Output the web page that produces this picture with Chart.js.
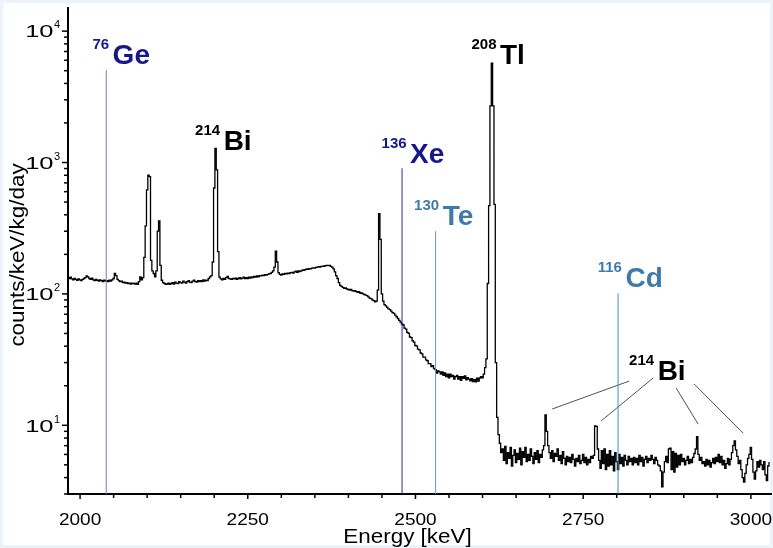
<!DOCTYPE html>
<html>
<head>
<meta charset="utf-8">
<script src="https://cdn.jsdelivr.net/npm/chart.js@4.4.1/dist/chart.umd.min.js"></script>
<style>
  html, body { margin: 0; padding: 0; background: #fff; }
  #wrap { width: 773px; height: 548px; }
</style>
</head>
<body>
<div id="wrap"><canvas id="spectrum" width="773" height="548"></canvas></div>
<script>
// histogram bins: 2 keV wide, first bin centred at 1980 keV
const binStart = 1980;
const binWidth = 2;

// counts/keV/kg/day, one row = 50 keV
const counts = [
  134,133,131,134,130,128,131,129,127,130,128,126,129,131,133,137,135,131,129,132,128,126,129,127,125, // 1980
  128,126,124,127,125,126,124,127,125,128,131,143,138,129,126,124,125,122,123,121,122,120,121,119,121, // 2030
  120,119,121,118,124,135,128,133,190,330,620,800,780,180,150,143,135,150,300,359,165,127,122,120,118, // 2080
  119,121,118,120,122,119,123,121,120,124,122,121,125,123,121,124,126,123,122,125,127,124,123,126,124, // 2130
  126,124,128,125,127,126,131,135,138,175,640,1283,880,210,134,130,128,131,129,133,136,131,130,129,131, // 2180
  130,132,129,131,133,130,132,134,131,133,131,134,132,135,133,136,134,137,135,138,137,139,138,140,139, // 2230
  141,142,143,146,150,160,212,175,145,141,139,142,141,143,142,144,143,145,146,144,147,149,146,150,148, // 2280
  150,152,151,153,155,154,156,155,157,158,157,159,160,161,160,162,163,162,164,165,164,165,162,160,155, // 2330
  147,138,131,122,116,114,112,110,111,109,108,107,108,106,105,106,104,103,104,101,102,100,99,98,97,    // 2380
  95,93,92,90,89,87,88,107,409,260,100,88,83,81,79,77,76,74,72,71,69,67,65,63,61,                      // 2430
  59,58,55,54,51,50,47,46.5,44,43,40.5,40,38,37.5,35.5,35,33,33,31.5,31,29.5,29.5,28,28.5,27,          // 2480
  26.5,25,26,25.5,24.5,25.5,24,25,23.5,24.5,23,24.5,23.5,24,22.5,23.5,24,22.5,23.5,22,23.5,22.8,23.8,22.2,23, // 2530
  22.5,21.8,22.6,21.5,22.3,21.4,22.8,21.7,22.9,23.5,23,24.5,27.5,32,120,470,2700,5700,2700,480,30,11.5,8.5,7.3,6.2, // 2580
  6.6,5.4,6.9,5.1,6.2,5.6,6.8,4.9,5.9,6.5,5.2,6.1,5.5,6.7,5.0,6.3,5.7,6.8,5.3,6.0,5.4,6.6,5.8,5.1,6.2, // 2630
  5.5,6.4,5.2,6.0,5.7,6.5,7.0,12.0,9.0,7.0,6.2,5.6,6.4,5.3,6.1,5.8,6.6,5.4,5.9,5.1,6.3,5.6,5.0,5.8,5.3, // 2680
  5.7,5.2,6.0,5.5,4.9,5.6,5.3,5.9,5.1,5.4,6.0,5.2,5.7,5.0,5.5,5.2,5.8,5.6,5.9,9.9,9.8,6.6,5.4,4.7,6.4, // 2730
  5.1,6.6,4.6,6.0,4.9,6.4,5.0,5.8,4.5,6.2,5.3,4.6,6.0,5.1,5.7,4.9,5.9,5.4,5.0,5.8,5.3,5.6,5.0,5.7,5.2, // 2780
  5.6,5.0,5.9,5.3,5.7,4.9,5.5,5.8,5.2,5.6,5.4,5.9,5.5,5.1,5.7,5.4,5.0,4.9,4.5,3.4,4.4,5.3,5.8,5.2,6.6, // 2830
  6.7,4.6,6.3,4.4,6.1,4.8,5.9,5.0,6.0,5.3,5.6,5.0,5.4,5.8,5.1,5.5,5.2,5.7,6.1,6.6,8.2,6.0,5.4,5.7,5.1, // 2880
  5.3,4.9,5.5,5.0,5.4,4.8,5.2,5.6,5.1,5.7,5.3,6.0,5.2,5.8,5.0,5.4,4.7,5.1,5.6,5.0,5.5,6.2,7.0,7.6,6.5, // 2930
  5.8,5.1,5.4,4.6,4.0,3.7,4.3,5.0,5.6,6.0,6.8,5.5,4.4,3.9,4.5,5.3,4.8,5.4,5.0,4.6,5.3,4.2,3.8,4.9,5.2  // 2980
];

// double beta Q-value markers
const markerEnergies = [2039, 2480, 2530, 2802];
const markerTops = [5025, 904, 300, 101];
const markerColors = ['#7878c8', '#2b2b95', '#6a97bd', '#4b8dbd'];

// isotope labels (anchor = left/baseline of element symbol, in data units)
const labelMass = ['76', '214', '136', '130', '208', '116', '214'];
const labelElement = ['Ge', 'Bi', 'Xe', 'Te', 'Tl', 'Cd', 'Bi'];
const labelEnergies = [2048.5, 2214, 2492, 2540.5, 2626, 2813, 2861];
const labelValues = [5650, 1239, 991, 333, 5580, 112, 22.1];
const labelColors = ['#17178a', '#000', '#17178a', '#3f7baa', '#000', '#3f7baa', '#000'];

// pointer lines from the right 214Bi label to its peaks
const pointerFromE = [2818.6, 2854.3, 2888.6, 2915.5];
const pointerFromV = [21.7, 22.9, 19.2, 20.6];
const pointerToE = [2703.7, 2776.8, 2921.4, 2988.5];
const pointerToV = [13.3, 10.8, 10.2, 8.7];

// axes
const xTickLabels = [2000, 2250, 2500, 2750, 3000];
const xMinorStep = 50;
const yTickPowers = [1, 2, 3, 4];

const FONT = '"Liberation Sans", Arial, sans-serif';
const energies = counts.map((_, i) => binStart + i * binWidth);

const datasets = [];
markerEnergies.forEach((e, i) => {
  datasets.push({
    data: [{ x: e, y: 3 }, { x: e, y: markerTops[i] }],
    borderColor: markerColors[i],
    borderWidth: 1,
    pointRadius: 0
  });
});
pointerFromE.forEach((e, i) => {
  datasets.push({
    data: [{ x: e, y: pointerFromV[i] }, { x: pointerToE[i], y: pointerToV[i] }],
    borderColor: '#404040',
    borderWidth: 0.9,
    pointRadius: 0
  });
});
datasets.push({
  data: energies.map((e, i) => ({ x: e, y: counts[i] })),
  borderColor: '#000',
  borderWidth: 1.3,
  pointRadius: 0,
  stepped: 'middle'
});

function stretchedText(ctx, text, x, y, sx, align) {
  ctx.save();
  ctx.translate(x, y);
  ctx.scale(sx, 1);
  ctx.textAlign = align;
  ctx.fillText(text, 0, 0);
  ctx.restore();
}

const decor = {
  id: 'decor',
  beforeDraw(chart) {
    const { ctx, width, height } = chart;
    ctx.save();
    ctx.fillStyle = '#edf3f8';
    ctx.fillRect(0, 0, width, height);
    ctx.fillStyle = '#fff';
    ctx.fillRect(3, 3, width - 6, height - 6);
    ctx.restore();
  },
  afterDraw(chart) {
    const { ctx, chartArea: area, scales: { x, y } } = chart;
    ctx.save();
    ctx.strokeStyle = '#000';
    ctx.fillStyle = '#000';
    ctx.lineWidth = 1.5;

    // x ticks
    for (let e = xTickLabels[0]; e <= x.max; e += xMinorStep) {
      const px = x.getPixelForValue(e);
      const len = xTickLabels.includes(e) ? 5 : 4;
      ctx.beginPath();
      ctx.moveTo(px, area.bottom);
      ctx.lineTo(px, area.bottom + len);
      ctx.stroke();
    }
    ctx.font = '17px ' + FONT;
    ctx.textBaseline = 'alphabetic';
    xTickLabels.forEach(e => {
      stretchedText(ctx, String(e), x.getPixelForValue(e), area.bottom + 31, 1.12, 'center');
    });

    // y ticks (log, 1..9 per decade)
    for (let d = 0; d <= 4; d++) {
      for (let m = 1; m <= 9; m++) {
        const v = m * Math.pow(10, d);
        if (v < y.min || v > y.max) continue;
        const py = y.getPixelForValue(v);
        ctx.beginPath();
        ctx.moveTo(area.left, py);
        ctx.lineTo(area.left - (m === 1 ? 6 : 4), py);
        ctx.stroke();
      }
    }
    yTickPowers.forEach(p => {
      const py = y.getPixelForValue(Math.pow(10, p));
      ctx.font = '17px ' + FONT;
      stretchedText(ctx, '10', area.left - 14.5, py + 6.3, 1.5, 'right');
      ctx.font = '11px ' + FONT;
      ctx.textAlign = 'left';
      ctx.fillText(String(p), area.left - 14, py - 2.7);
    });

    // axis titles
    ctx.font = '19.5px ' + FONT;
    stretchedText(ctx, 'Energy [keV]', 407.5, 543.3, 1.15, 'center');
    ctx.save();
    ctx.translate(18.5, (area.top + area.bottom) / 2 + 4);
    ctx.rotate(-Math.PI / 2);
    ctx.scale(1.15, 1);
    ctx.textAlign = 'center';
    ctx.textBaseline = 'middle';
    ctx.fillText('counts/keV/kg/day', 0, 0);
    ctx.restore();

    // isotope labels
    labelElement.forEach((el, i) => {
      const px = x.getPixelForValue(labelEnergies[i]);
      const py = y.getPixelForValue(labelValues[i]);
      ctx.fillStyle = labelColors[i];
      ctx.textBaseline = 'alphabetic';
      ctx.font = 'bold 28px ' + FONT;
      ctx.textAlign = 'left';
      ctx.fillText(el, px, py);
      ctx.font = 'bold 15px ' + FONT;
      ctx.textAlign = 'right';
      ctx.fillText(labelMass[i], px - 3.5, py - 15);
    });
    ctx.restore();
  }
};

new Chart(document.getElementById('spectrum'), {
  type: 'line',
  data: { datasets },
  options: {
    responsive: false,
    animation: false,
    layout: { padding: { top: 8, right: 2, left: 0, bottom: 0 } },
    plugins: { legend: { display: false }, tooltip: { enabled: false } },
    scales: {
      x: {
        type: 'linear',
        min: 1982,
        max: 3030,
        grid: { display: false },
        border: { display: true, color: '#000', width: 2 },
        ticks: { display: false },
        afterFit: s => { s.height = 54; }
      },
      y: {
        type: 'logarithmic',
        min: 3,
        max: 15000,
        grid: { display: false },
        border: { display: true, color: '#000', width: 2 },
        ticks: { display: false },
        afterFit: s => { s.width = 68; }
      }
    }
  },
  plugins: [decor]
});
</script>
</body>
</html>
